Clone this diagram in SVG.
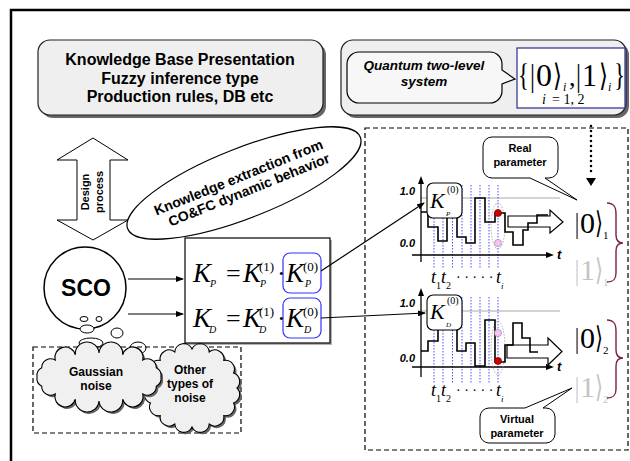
<svg xmlns="http://www.w3.org/2000/svg" width="630" height="461" viewBox="0 0 630 461">
<defs>
<style>
.lbl{font-family:"Liberation Sans",Arial,sans-serif;font-weight:bold;fill:#000}
.m{font-family:"Liberation Serif","DejaVu Serif",serif;fill:#000}
.mi{font-family:"Liberation Serif","DejaVu Serif",serif;font-style:italic;fill:#000}
.ln{fill:none;stroke:#000;stroke-width:1.2}
.step{fill:none;stroke:#000;stroke-width:1.6}
.blue{stroke:#3a3aff;stroke-width:0.9;stroke-dasharray:1.5 1.5}
.gray{stroke:#aaaaaa;stroke-width:1.2}
.shadow{fill:#666}
.cloud{fill:#f0f0f0;stroke:#000;stroke-width:1.1}
.ket1{fill:#c4c4c4}
</style>
<marker id="ah" markerWidth="8" markerHeight="6" refX="7" refY="3" orient="auto" markerUnits="userSpaceOnUse">
<path d="M0,0 L8,3 L0,6 Z" fill="#000"/>
</marker>
</defs>
<rect x="0" y="0" width="630" height="461" fill="#fff"/>
<path d="M11,461 V10 H630" fill="none" stroke="#000" stroke-width="2.5"/>

<g id="kb-box">
<rect x="41" y="43" width="285" height="75" rx="12" class="shadow"/>
<rect x="38" y="40" width="285" height="75" rx="12" fill="#efefef" stroke="#222" stroke-width="1.2"/>
<text class="lbl" font-size="16" text-anchor="middle" x="180" y="65">Knowledge Base Presentation</text>
<text class="lbl" font-size="16" text-anchor="middle" x="180" y="83.5">Fuzzy inference type</text>
<text class="lbl" font-size="16" text-anchor="middle" x="180" y="102">Production rules, DB etc</text>
</g>

<g id="quantum-box">
<rect x="344" y="43" width="285" height="75" rx="12" class="shadow"/>
<rect x="341" y="40" width="285" height="75" rx="12" fill="#efefef" stroke="#222" stroke-width="1.2"/>
<path d="M359,52 H490 A12,12 0 0 1 502,64 V70 L515,79 L502,84 V91 A12,12 0 0 1 490,103 H359 A12,12 0 0 1 347,91 V64 A12,12 0 0 1 359,52 Z" fill="#f7f7f7" stroke="#000" stroke-width="1.2"/>
<text class="lbl" font-size="13.5" font-style="italic" text-anchor="middle" x="424" y="70">Quantum two-level</text>
<text class="lbl" font-size="13.5" font-style="italic" text-anchor="middle" x="424" y="86">system</text>
<rect x="517" y="48" width="108" height="60" fill="#fff" stroke="#3b3b9b" stroke-width="1.3"/>
<text class="m" font-size="32" x="518" y="86" textLength="11" lengthAdjust="spacingAndGlyphs">{</text>
<text class="m" font-size="31" x="530" y="86" textLength="5" lengthAdjust="spacingAndGlyphs">|</text>
<text class="m" font-size="31" x="536" y="86" textLength="16" lengthAdjust="spacingAndGlyphs">0</text>
<text class="m" font-size="31" x="553" y="86" textLength="9" lengthAdjust="spacingAndGlyphs">⟩</text>
<text class="mi" font-size="12" x="563" y="91">i</text>
<text class="m" font-size="26" x="569" y="86">,</text>
<text class="m" font-size="31" x="576" y="86" textLength="5" lengthAdjust="spacingAndGlyphs">|</text>
<text class="m" font-size="31" x="582" y="86" textLength="15" lengthAdjust="spacingAndGlyphs">1</text>
<text class="m" font-size="31" x="599" y="86" textLength="9" lengthAdjust="spacingAndGlyphs">⟩</text>
<text class="mi" font-size="12" x="608" y="91">i</text>
<text class="m" font-size="32" x="614" y="86" textLength="11" lengthAdjust="spacingAndGlyphs">}</text>
<text class="mi" font-size="14" x="542" y="104">i</text>
<text class="m" font-size="14" x="552" y="104">= 1, 2</text>
</g>

<g id="design-arrow">
<polygon points="93,138 128,160 110,160 110,220 128,220 93,240 57,220 77,220 77,160 57,160" fill="#fff" stroke="#000" stroke-width="1"/>
<text class="lbl" font-size="11" text-anchor="middle" transform="translate(89,192) rotate(-90)">Design</text>
<text class="lbl" font-size="11" text-anchor="middle" transform="translate(103,192) rotate(-90)">process</text>
</g>

<g id="extraction-ellipse">
<ellipse cx="0" cy="0" rx="125" ry="35" transform="translate(244,183) rotate(-21.5)" fill="#fff" stroke="#000" stroke-width="1.2"/>
<g transform="translate(244,183) rotate(-22)">
<text class="lbl" font-size="14" text-anchor="middle" x="-3" y="-2.5">Knowledge extraction from</text>
<text class="lbl" font-size="14" text-anchor="middle" x="2" y="13">CO&amp;FC dynamic behavior</text>
</g>
</g>

<g id="sco">
<circle cx="85" cy="288" r="41" fill="#fff" stroke="#000" stroke-width="1.5"/>
<text class="lbl" font-size="23" text-anchor="middle" x="86" y="296">SCO</text>
<ellipse cx="84" cy="319" rx="4" ry="2.5" fill="#fff" stroke="#000" stroke-width="1"/>
<ellipse cx="99" cy="319" rx="3" ry="2.5" fill="#fff" stroke="#000" stroke-width="1"/>
<ellipse cx="87" cy="329" rx="7" ry="4" fill="#fff" stroke="#000" stroke-width="1"/>
<ellipse cx="117" cy="333" rx="6" ry="5" fill="#fff" stroke="#000" stroke-width="1"/>
<ellipse cx="91" cy="343" rx="12" ry="5" fill="#fff" stroke="#000" stroke-width="1"/>
<ellipse cx="138" cy="348" rx="8" ry="6" fill="#fff" stroke="#000" stroke-width="1"/>
</g>

<g id="noise">
<rect x="33" y="347" width="208" height="86" fill="none" stroke="#000" stroke-width="1.2" stroke-dasharray="5 3"/>
<g id="other-noise">
<path transform="translate(2,2)" class="shadow" d="M237,388 A9,9 0 0 0 233.6,373.1 A9,9 0 0 0 223.8,360.4 A9,9 0 0 0 209.2,352 A9,9 0 0 0 192,349 A9,9 0 0 0 174.8,352 A9,9 0 0 0 160.2,360.4 A9,9 0 0 0 150.4,373.1 A9,9 0 0 0 147,388 A9,9 0 0 0 150.4,402.9 A9,9 0 0 0 160.2,415.6 A9,9 0 0 0 174.8,424 A9,9 0 0 0 192,427 A9,9 0 0 0 209.2,424 A9,9 0 0 0 223.8,415.6 A9,9 0 0 0 233.6,402.9 A9,9 0 0 0 237,388 Z"/>
<path class="cloud" d="M237,388 A9,9 0 0 0 233.6,373.1 A9,9 0 0 0 223.8,360.4 A9,9 0 0 0 209.2,352 A9,9 0 0 0 192,349 A9,9 0 0 0 174.8,352 A9,9 0 0 0 160.2,360.4 A9,9 0 0 0 150.4,373.1 A9,9 0 0 0 147,388 A9,9 0 0 0 150.4,402.9 A9,9 0 0 0 160.2,415.6 A9,9 0 0 0 174.8,424 A9,9 0 0 0 192,427 A9,9 0 0 0 209.2,424 A9,9 0 0 0 223.8,415.6 A9,9 0 0 0 233.6,402.9 A9,9 0 0 0 237,388 Z"/>
<text class="lbl" font-size="12" text-anchor="middle" x="190" y="374">Other</text>
<text class="lbl" font-size="12" text-anchor="middle" x="190" y="388">types of</text>
<text class="lbl" font-size="12" text-anchor="middle" x="190" y="402">noise</text>
</g>
<g id="gaussian-noise">
<path transform="translate(2,2)" class="shadow" d="M161,377 A9,9 0 0 0 156.3,367.8 A9,9 0 0 0 142.8,360 A9,9 0 0 0 122.7,354.8 A9,9 0 0 0 99,353 A9,9 0 0 0 75.3,354.8 A9,9 0 0 0 55.2,360 A9,9 0 0 0 41.7,367.8 A9,9 0 0 0 37,377 A9,9 0 0 0 41.7,386.2 A9,9 0 0 0 55.2,394 A9,9 0 0 0 75.3,399.2 A9,9 0 0 0 99,401 A9,9 0 0 0 122.7,399.2 A9,9 0 0 0 142.8,394 A9,9 0 0 0 156.3,386.2 A9,9 0 0 0 161,377 Z"/>
<path class="cloud" d="M161,377 A9,9 0 0 0 156.3,367.8 A9,9 0 0 0 142.8,360 A9,9 0 0 0 122.7,354.8 A9,9 0 0 0 99,353 A9,9 0 0 0 75.3,354.8 A9,9 0 0 0 55.2,360 A9,9 0 0 0 41.7,367.8 A9,9 0 0 0 37,377 A9,9 0 0 0 41.7,386.2 A9,9 0 0 0 55.2,394 A9,9 0 0 0 75.3,399.2 A9,9 0 0 0 99,401 A9,9 0 0 0 122.7,399.2 A9,9 0 0 0 142.8,394 A9,9 0 0 0 156.3,386.2 A9,9 0 0 0 161,377 Z"/>
<text class="lbl" font-size="12" text-anchor="middle" x="96" y="376">Gaussian</text>
<text class="lbl" font-size="12" text-anchor="middle" x="96" y="390">noise</text>
</g>
</g>

<g id="formula-box">
<rect x="187" y="240" width="145" height="105" class="shadow" opacity="0.5"/>
<rect x="185" y="238" width="145" height="105" fill="#fff" stroke="#000" stroke-width="1.2"/>
<rect x="283" y="253" width="38" height="40" rx="7" fill="none" stroke="#3333ff" stroke-width="1.2"/>
<rect x="283" y="298" width="38" height="40" rx="7" fill="none" stroke="#3333ff" stroke-width="1.2"/>
<text class="mi" font-size="27" x="193" y="282">K</text>
<text class="mi" font-size="10" x="210" y="287">P</text>
<text class="m" font-size="26" x="226" y="282">=</text>
<text class="mi" font-size="27" x="243" y="282">K</text>
<text class="m" font-size="13" x="259" y="271">(1)</text>
<text class="mi" font-size="10" x="260" y="287">P</text>
<text class="m" font-size="26" x="277" y="282">·</text>
<text class="mi" font-size="27" x="286" y="282">K</text>
<text class="m" font-size="13" x="303" y="271">(0)</text>
<text class="mi" font-size="10" x="305" y="287">P</text>
<text class="mi" font-size="27" x="193" y="327">K</text>
<text class="mi" font-size="10" x="209" y="333">D</text>
<text class="m" font-size="26" x="226" y="327">=</text>
<text class="mi" font-size="27" x="243" y="327">K</text>
<text class="m" font-size="13" x="259" y="316">(1)</text>
<text class="mi" font-size="10" x="259" y="333">D</text>
<text class="m" font-size="26" x="277" y="327">·</text>
<text class="mi" font-size="27" x="286" y="327">K</text>
<text class="m" font-size="13" x="303" y="316">(0)</text>
<text class="mi" font-size="10" x="304" y="333">D</text>
</g>

<g id="dynamic-panel">
<rect x="365" y="128" width="263" height="322" fill="none" stroke="#000" stroke-width="1.2" stroke-dasharray="5 3"/>
</g>

<g id="real-parameter">
<path d="M492,137 H549 A9,9 0 0 1 558,146 V169 A9,9 0 0 1 549,178 H545 L577,200 L530,178 H492 A9,9 0 0 1 483,169 V146 A9,9 0 0 1 492,137 Z" fill="#fff" stroke="#000" stroke-width="1"/>
<text class="lbl" font-size="11" text-anchor="middle" x="520" y="152">Real</text>
<text class="lbl" font-size="11" text-anchor="middle" x="520" y="166">parameter</text>
</g>

<g id="virtual-parameter">
<path d="M489,408 H525 L572,388 L543,408 H546 A9,9 0 0 1 555,417 V434 A9,9 0 0 1 546,443 H489 A9,9 0 0 1 480,434 V417 A9,9 0 0 1 489,408 Z" fill="#fff" stroke="#000" stroke-width="1"/>
<text class="lbl" font-size="11" text-anchor="middle" x="517" y="423">Virtual</text>
<text class="lbl" font-size="11" text-anchor="middle" x="517" y="437">parameter</text>
</g>

<g id="chart-p">
<line x1="421" y1="198" x2="560" y2="198" class="gray"/>
<g class="blue">
<line x1="434" y1="185" x2="434" y2="269"/><line x1="443" y1="185" x2="443" y2="269"/>
<line x1="452.5" y1="185" x2="452.5" y2="269"/><line x1="462" y1="185" x2="462" y2="269"/>
<line x1="471" y1="185" x2="471" y2="269"/><line x1="480" y1="185" x2="480" y2="269"/>
<line x1="489" y1="185" x2="489" y2="269"/><line x1="498" y1="185" x2="498" y2="269"/>
</g>
<line x1="421" y1="262" x2="421" y2="182" stroke="#000" stroke-width="1.3"/>
<path d="M421,176 L418,184 L424,184 Z" fill="#000"/>
<line x1="412" y1="255" x2="547" y2="255" stroke="#000" stroke-width="1.3"/>
<path d="M554,255 L546,252 L546,258 Z" fill="#000"/>
<text class="lbl" font-size="11" font-style="italic" text-anchor="end" x="415" y="195">1.0</text>
<text class="lbl" font-size="11" font-style="italic" text-anchor="end" x="415" y="247">0.0</text>
<text class="lbl" font-size="13" font-style="italic" x="557" y="259">t</text>
<ellipse cx="498" cy="226" rx="7" ry="23" fill="none" stroke="#999" stroke-width="0.8" stroke-dasharray="1.5 1.5"/>
<polyline class="step" points="421,212 428,212 428,227 438,227 438,241 447,241 447,215 457,215 457,237 466,237 466,243 475,243 475,198 485,198 485,222 495,222 495,213 505,213 505,232 513,232 513,245 523,245 523,230 528,230 528,223 537,223 537,215 548,215"/>
<polygon points="508,216 550,216 550,210 563,222 550,233 550,227 508,227" fill="none" stroke="#000" stroke-width="1.2"/>
<circle cx="498" cy="213" r="3.6" fill="#cc0000" stroke="#700" stroke-width="0.6"/>
<circle cx="498" cy="243" r="3.6" fill="#f2c4f0" stroke="#a080a0" stroke-width="0.6"/>
<rect x="427" y="183" width="35" height="35" rx="6" fill="#fff" stroke="#000" stroke-width="1.1"/>
<text class="mi" font-size="22" x="430" y="208">K</text>
<text class="m" font-size="10" x="447" y="193">(0)</text>
<text class="mi" font-size="7" x="446" y="216">P</text>
<text class="mi" font-size="18" x="431" y="283">t</text>
<text class="m" font-size="10" x="436" y="289">1</text>
<text class="mi" font-size="18" x="441" y="283">t</text>
<text class="m" font-size="10" x="446" y="289">2</text>
<text class="m" font-size="14" x="456" y="282">· · · · ·</text>
<text class="mi" font-size="18" x="496" y="283">t</text>
<text class="mi" font-size="9" x="501" y="289">i</text>
<text class="m" font-size="30" x="575" y="233" textLength="4" lengthAdjust="spacingAndGlyphs">|</text>
<text class="m" font-size="30" x="580" y="233" textLength="15" lengthAdjust="spacingAndGlyphs">0</text>
<text class="m" font-size="30" x="595" y="233" textLength="8" lengthAdjust="spacingAndGlyphs">⟩</text>
<text class="m" font-size="11" x="603" y="239">1</text>
<text class="m ket1" font-size="30" x="575" y="280" textLength="4" lengthAdjust="spacingAndGlyphs">|</text>
<text class="m ket1" font-size="30" x="580" y="280" textLength="15" lengthAdjust="spacingAndGlyphs">1</text>
<text class="m ket1" font-size="30" x="595" y="280" textLength="8" lengthAdjust="spacingAndGlyphs">⟩</text>
<text class="m ket1" font-size="11" x="603" y="286">1</text>
<path d="M607,203 C614,203 616,207 616,214 L616,235 C616,240 618,243 623,243 C618,243 616,246 616,251 L616,273 C616,279 614,282 607,282" fill="none" stroke="#7b1f4b" stroke-width="1.4"/>
</g>

<g id="chart-d">
<line x1="421" y1="311" x2="560" y2="311" class="gray"/>
<g class="blue">
<line x1="434" y1="297" x2="434" y2="383"/><line x1="443" y1="297" x2="443" y2="383"/>
<line x1="452.5" y1="297" x2="452.5" y2="383"/><line x1="462" y1="297" x2="462" y2="383"/>
<line x1="471" y1="297" x2="471" y2="383"/><line x1="480" y1="297" x2="480" y2="383"/>
<line x1="489" y1="297" x2="489" y2="383"/><line x1="498" y1="297" x2="498" y2="383"/>
</g>
<line x1="421" y1="377" x2="421" y2="294" stroke="#000" stroke-width="1.3"/>
<path d="M421,288 L418,296 L424,296 Z" fill="#000"/>
<line x1="412" y1="367" x2="547" y2="367" stroke="#000" stroke-width="1.3"/>
<path d="M554,367 L546,364 L546,370 Z" fill="#000"/>
<text class="lbl" font-size="11" font-style="italic" text-anchor="end" x="415" y="307">1.0</text>
<text class="lbl" font-size="11" font-style="italic" text-anchor="end" x="415" y="362">0.0</text>
<text class="lbl" font-size="13" font-style="italic" x="557" y="371">t</text>
<ellipse cx="498" cy="348" rx="7" ry="27" fill="none" stroke="#999" stroke-width="0.8" stroke-dasharray="1.5 1.5"/>
<polyline class="step" points="421,351 428,351 428,341 438,341 438,328 457,328 457,351 466,351 466,343 475,343 475,366 485,366 485,320 495,320 495,362 505,362 505,345 513,345 513,323 522,323 522,338 530,338 530,352 538,352"/>
<polygon points="507,345 548,345 548,338 562,351.5 548,365 548,358 507,358" fill="none" stroke="#000" stroke-width="1.2"/>
<circle cx="498" cy="333" r="3.6" fill="#f2c4f0" stroke="#a080a0" stroke-width="0.6"/>
<circle cx="498" cy="361" r="3.6" fill="#cc0000" stroke="#700" stroke-width="0.6"/>
<rect x="427" y="295" width="35" height="35" rx="6" fill="#fff" stroke="#000" stroke-width="1.1"/>
<text class="mi" font-size="22" x="430" y="319">K</text>
<text class="m" font-size="10" x="447" y="304">(0)</text>
<text class="mi" font-size="7" x="446" y="327">D</text>
<text class="mi" font-size="18" x="431" y="396">t</text>
<text class="m" font-size="10" x="436" y="402">1</text>
<text class="mi" font-size="18" x="441" y="396">t</text>
<text class="m" font-size="10" x="446" y="402">2</text>
<text class="m" font-size="14" x="456" y="395">· · · · ·</text>
<text class="mi" font-size="18" x="496" y="396">t</text>
<text class="mi" font-size="9" x="501" y="402">i</text>
<text class="m" font-size="30" x="575" y="348" textLength="4" lengthAdjust="spacingAndGlyphs">|</text>
<text class="m" font-size="30" x="580" y="348" textLength="15" lengthAdjust="spacingAndGlyphs">0</text>
<text class="m" font-size="30" x="595" y="348" textLength="8" lengthAdjust="spacingAndGlyphs">⟩</text>
<text class="m" font-size="11" x="603" y="354">2</text>
<text class="m ket1" font-size="30" x="575" y="397" textLength="4" lengthAdjust="spacingAndGlyphs">|</text>
<text class="m ket1" font-size="30" x="580" y="397" textLength="15" lengthAdjust="spacingAndGlyphs">1</text>
<text class="m ket1" font-size="30" x="595" y="397" textLength="8" lengthAdjust="spacingAndGlyphs">⟩</text>
<text class="m ket1" font-size="11" x="603" y="403">2</text>
<path d="M607,320 C614,320 616,324 616,331 L616,350 C616,355 618,358 623,358 C618,358 616,361 616,366 L616,389 C616,395 614,398 607,398" fill="none" stroke="#7b1f4b" stroke-width="1.4"/>
</g>

<g id="connectors">
<line x1="128" y1="279" x2="183" y2="279" class="ln" marker-end="url(#ah)"/>
<line x1="128" y1="314" x2="183" y2="314" class="ln" marker-end="url(#ah)"/>
<line x1="321" y1="271" x2="424" y2="203" class="ln" marker-end="url(#ah)"/>
<line x1="321" y1="318" x2="425" y2="313" class="ln" marker-end="url(#ah)"/>
<line x1="591" y1="126" x2="591" y2="176" stroke="#000" stroke-width="2.6" stroke-linecap="round" stroke-dasharray="0 5"/>
<path d="M586,178 L596,178 L591,186 Z" fill="#000"/>
</g>
</svg>
